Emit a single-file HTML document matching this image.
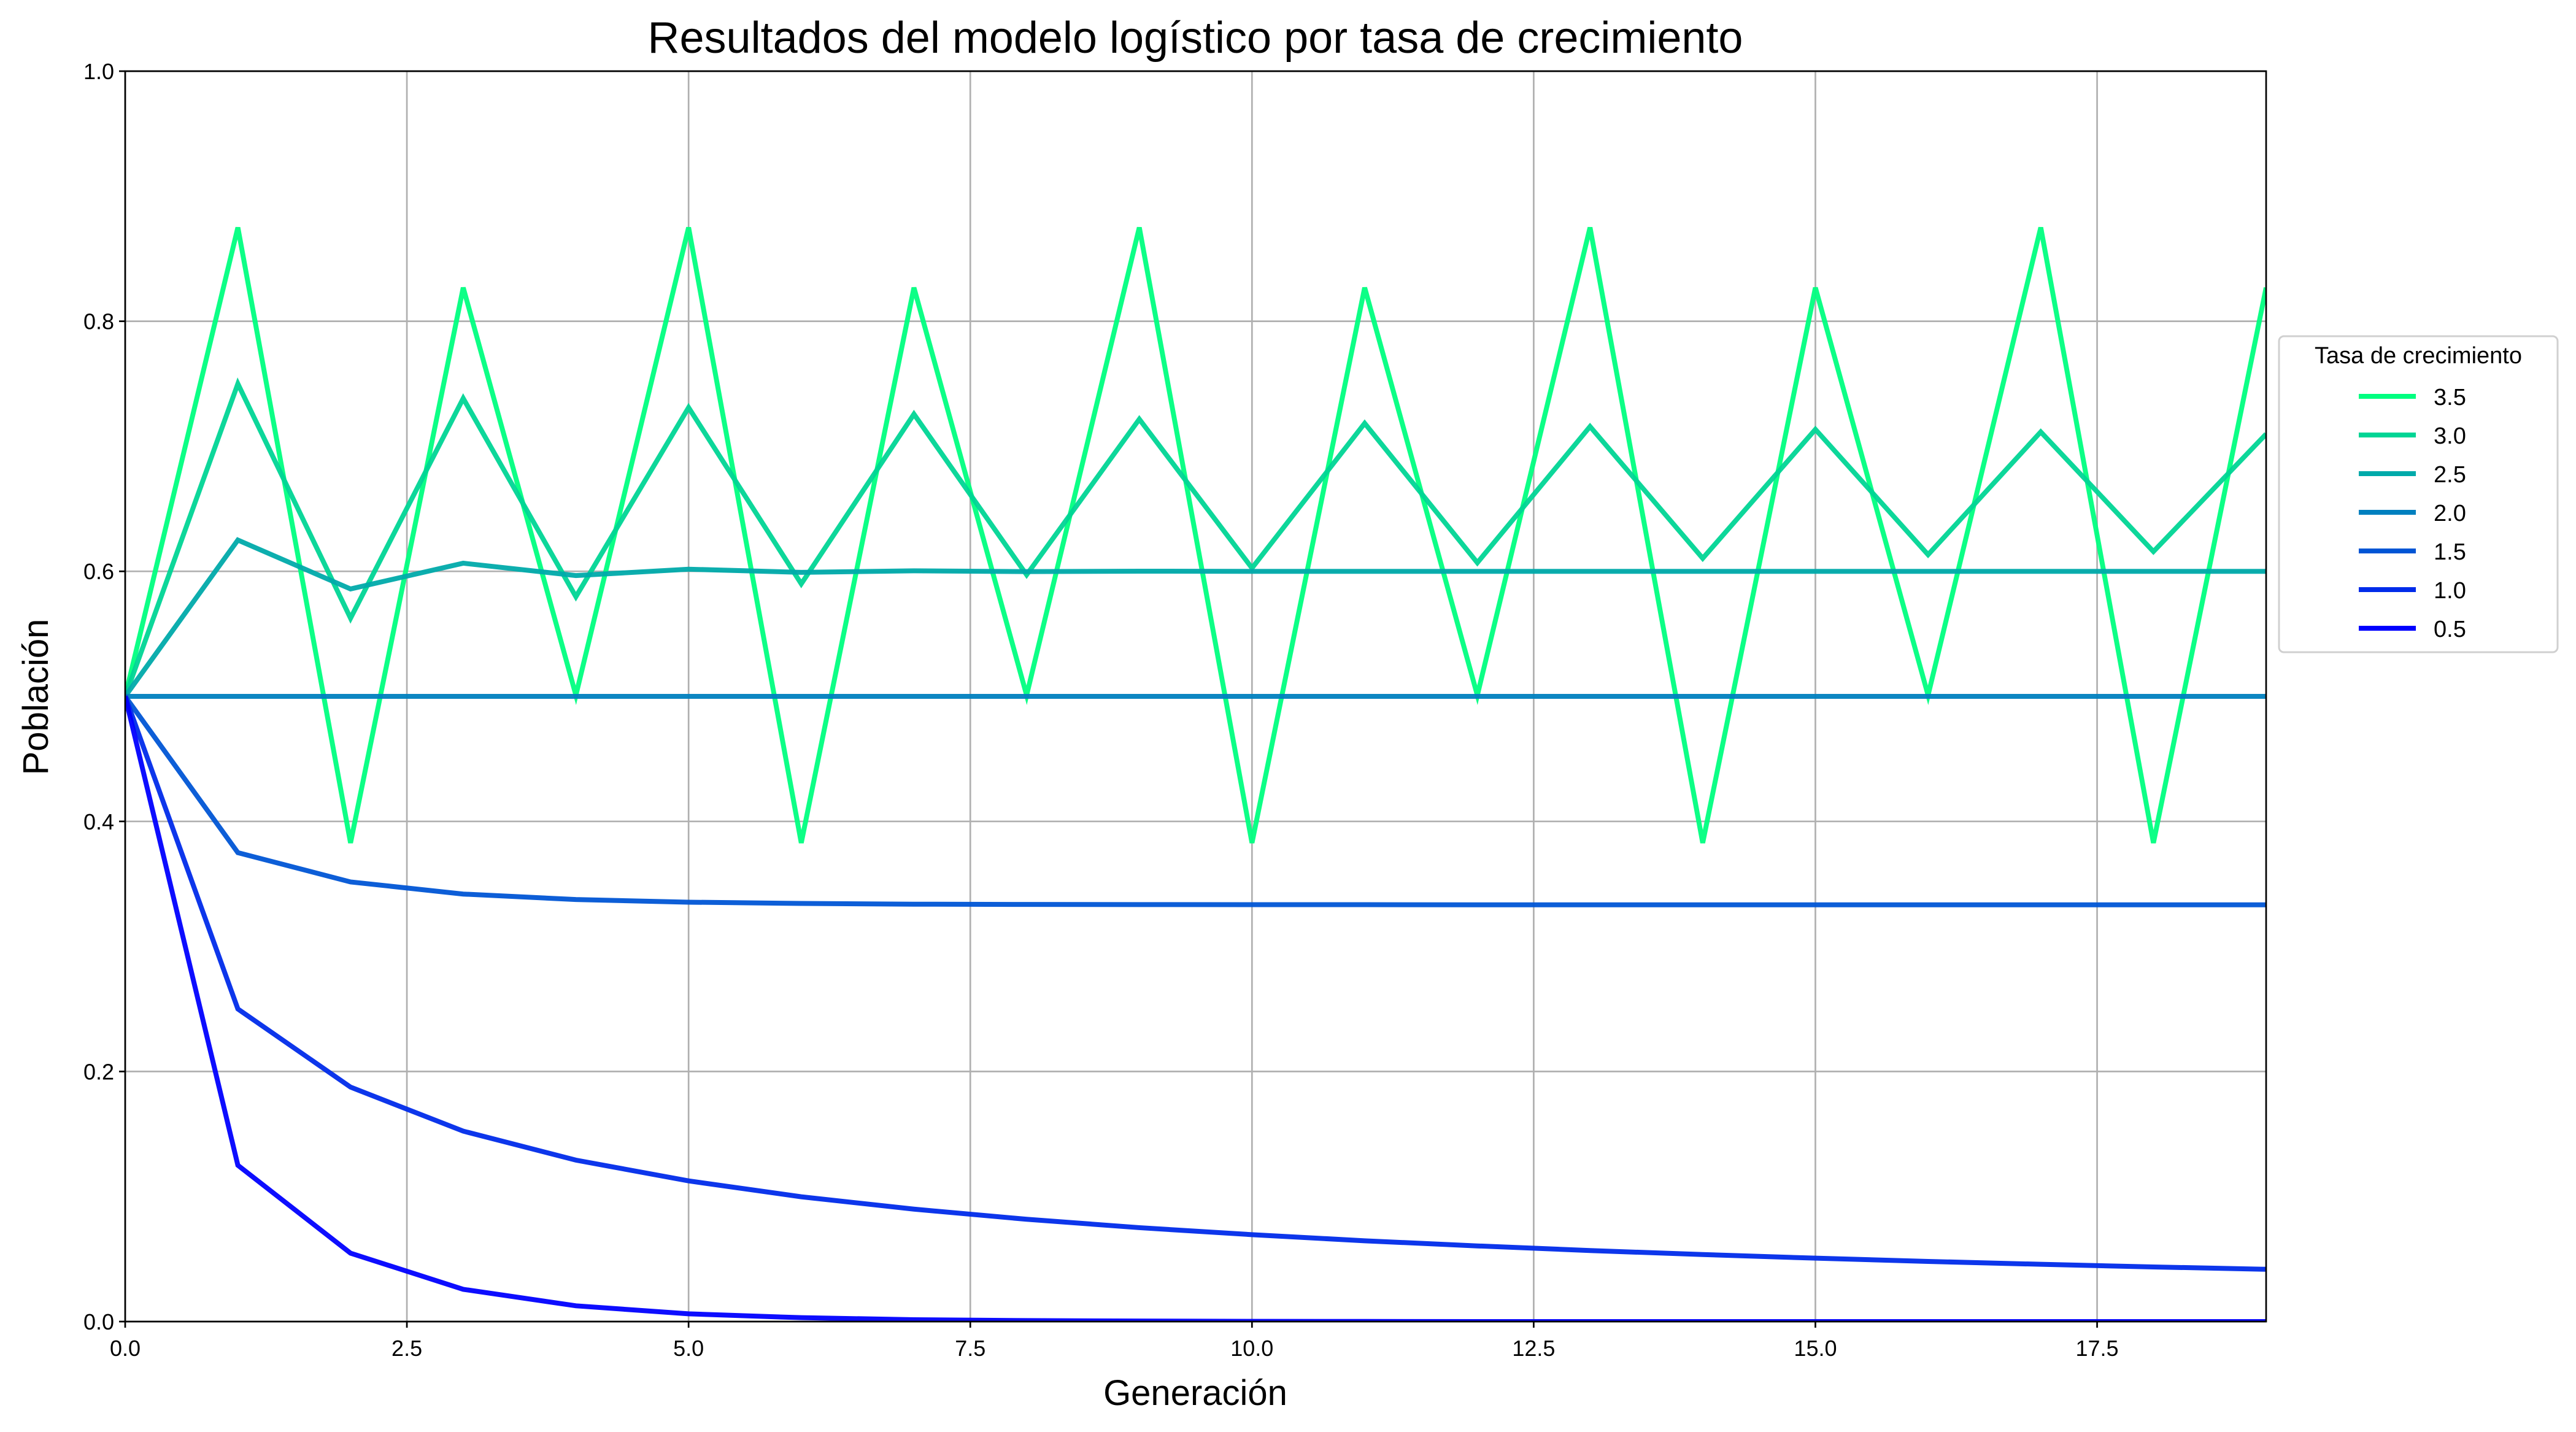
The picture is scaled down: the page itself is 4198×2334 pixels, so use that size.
<!DOCTYPE html>
<html><head><meta charset="utf-8"><style>
html,body{margin:0;padding:0;background:#fff;}
svg{display:block;font-family:"Liberation Sans",sans-serif;}
</style></head><body>
<svg id="chart" width="4198" height="2334" viewBox="0 0 4198 2334" xmlns="http://www.w3.org/2000/svg">
<rect width="4198" height="2334" fill="#fff"/>
<g id="grid"></g>
<g id="series"></g>
<g id="axes"></g>
<text x="1948" y="86" font-size="72" text-anchor="middle">Resultados del modelo logístico por tasa de crecimiento</text>
<text x="1948" y="2290" font-size="58" text-anchor="middle">Generación</text>
<text x="0" y="0" font-size="58" text-anchor="middle" transform="translate(78,1136) rotate(-90)">Población</text>
<g id="legend"></g>
</svg>
<script>
const rates = ["3.5","3.0","2.5","2.0","1.5","1.0","0.5"];
const s35 = [0.5,0.875,0.3828,0.8269,0.5009,0.875,0.3828,0.8269,0.5009,0.875,0.3828,0.8269,0.5009,0.875,0.3828,0.8269,0.5009,0.875,0.3828,0.8269];
const s30 = [0.5,0.75,0.5625,0.7383,0.5797,0.731,0.59,0.7257,0.5972,0.7217,0.6026,0.7184,0.6069,0.7158,0.6104,0.7135,0.6133,0.7115,0.6158,0.7098];
const s25 = [0.5,0.625,0.5859,0.6065,0.5966,0.6017,0.5992,0.6004,0.5998,0.6001,0.6,0.6,0.6,0.6,0.6,0.6,0.6,0.6,0.6,0.6];
const s20 = [0.5,0.5,0.5,0.5,0.5,0.5,0.5,0.5,0.5,0.5,0.5,0.5,0.5,0.5,0.5,0.5,0.5,0.5,0.5,0.5];
const s15 = [0.5,0.375,0.3516,0.3419,0.3375,0.3354,0.3344,0.3338,0.3336,0.3335,0.3334,0.3334,0.3333,0.3333,0.3333,0.3333,0.3333,0.3333,0.3333,0.3333];
const s10 = [0.5,0.25,0.1875,0.1523,0.1291,0.1125,0.0998,0.0899,0.0818,0.0751,0.0695,0.0646,0.0605,0.0568,0.0536,0.0507,0.0481,0.0458,0.0437,0.0418];
const s05 = [0.5,0.125,0.0547,0.0258,0.0126,0.0062,0.0031,0.0015,0.0008,0.0004,0.0002,0.0001,0,0,0,0,0,0,0,0];
const xTicks = ["0.0","2.5","5.0","7.5","10.0","12.5","15.0","17.5"];
const yTicks = ["0.0","0.2","0.4","0.6","0.8","1.0"];
const allSeries = [s35,s30,s25,s20,s15,s10,s05];

const NS="http://www.w3.org/2000/svg";
const L=204,R=3693,T=116,B=2154,XMAX=19;
const xs=v=>L+(v/XMAX)*(R-L);
const ys=v=>B-v*(B-T);
function mk(tag,attrs,parent){const e=document.createElementNS(NS,tag);for(const k in attrs)e.setAttribute(k,attrs[k]);parent.appendChild(e);return e;}
const grid=document.getElementById('grid'),axes=document.getElementById('axes'),ser=document.getElementById('series'),leg=document.getElementById('legend');
function col(i){const t=(rates.length-1-i)/(rates.length-1);return `rgb(0,${Math.round(255*t)},${Math.round(255*(1-t/2))})`;}

xTicks.forEach(t=>{const x=xs(parseFloat(t));
 const g=mk('line',{x1:x,x2:x,y1:T,y2:B,stroke:'#b0b0b0','stroke-width':2.7},grid);
 
 const tk=mk('line',{x1:x,x2:x,y1:B,y2:B+10,stroke:'#000','stroke-width':2.7},axes);
 
 const tx=mk('text',{x:x,y:B+56,'font-size':36,'text-anchor':'middle'},axes);tx.textContent=t;
 
});
yTicks.forEach(t=>{const y=ys(parseFloat(t));
 const g=mk('line',{x1:L,x2:R,y1:y,y2:y,stroke:'#b0b0b0','stroke-width':2.7},grid);
 
 const tk=mk('line',{x1:L-10,x2:L,y1:y,y2:y,stroke:'#000','stroke-width':2.7},axes);
 
 const tx=mk('text',{x:L-18,y:y+13,'font-size':36,'text-anchor':'end'},axes);tx.textContent=t;
 
});
const frame=mk('rect',{x:L,y:T,width:R-L,height:B-T,fill:'none',stroke:'#000','stroke-width':2.7},axes);


const clip=mk('clipPath',{id:'pc'},document.getElementById('chart'));
mk('rect',{x:L,y:T-10,width:R-L,height:B-T+10},clip);
ser.setAttribute('clip-path','url(#pc)');
allSeries.forEach((s,i)=>{
 const p=mk('polyline',{points:s.map((v,j)=>xs(j)+','+ys(v)).join(' '),fill:'none',stroke:col(i),'stroke-width':8,'stroke-linejoin':'miter','stroke-opacity':0.95},ser);
 
});

const box=mk('rect',{x:3714,y:548,width:454,height:515,rx:8,fill:'#fff','fill-opacity':0.8,stroke:'#d0d0d0','stroke-width':3},leg);

const lt=mk('text',{x:3941,y:592,'font-size':38,'text-anchor':'middle'},leg);lt.textContent='Tasa de crecimiento';

rates.forEach((r,i)=>{const y=646+i*63;
 const ln=mk('line',{x1:3844,x2:3937,y1:y,y2:y,stroke:col(i),'stroke-width':8},leg);
 
 const tx=mk('text',{x:3966,y:y+14,'font-size':38},leg);tx.textContent=r;
 
});
</script>
</body></html>
